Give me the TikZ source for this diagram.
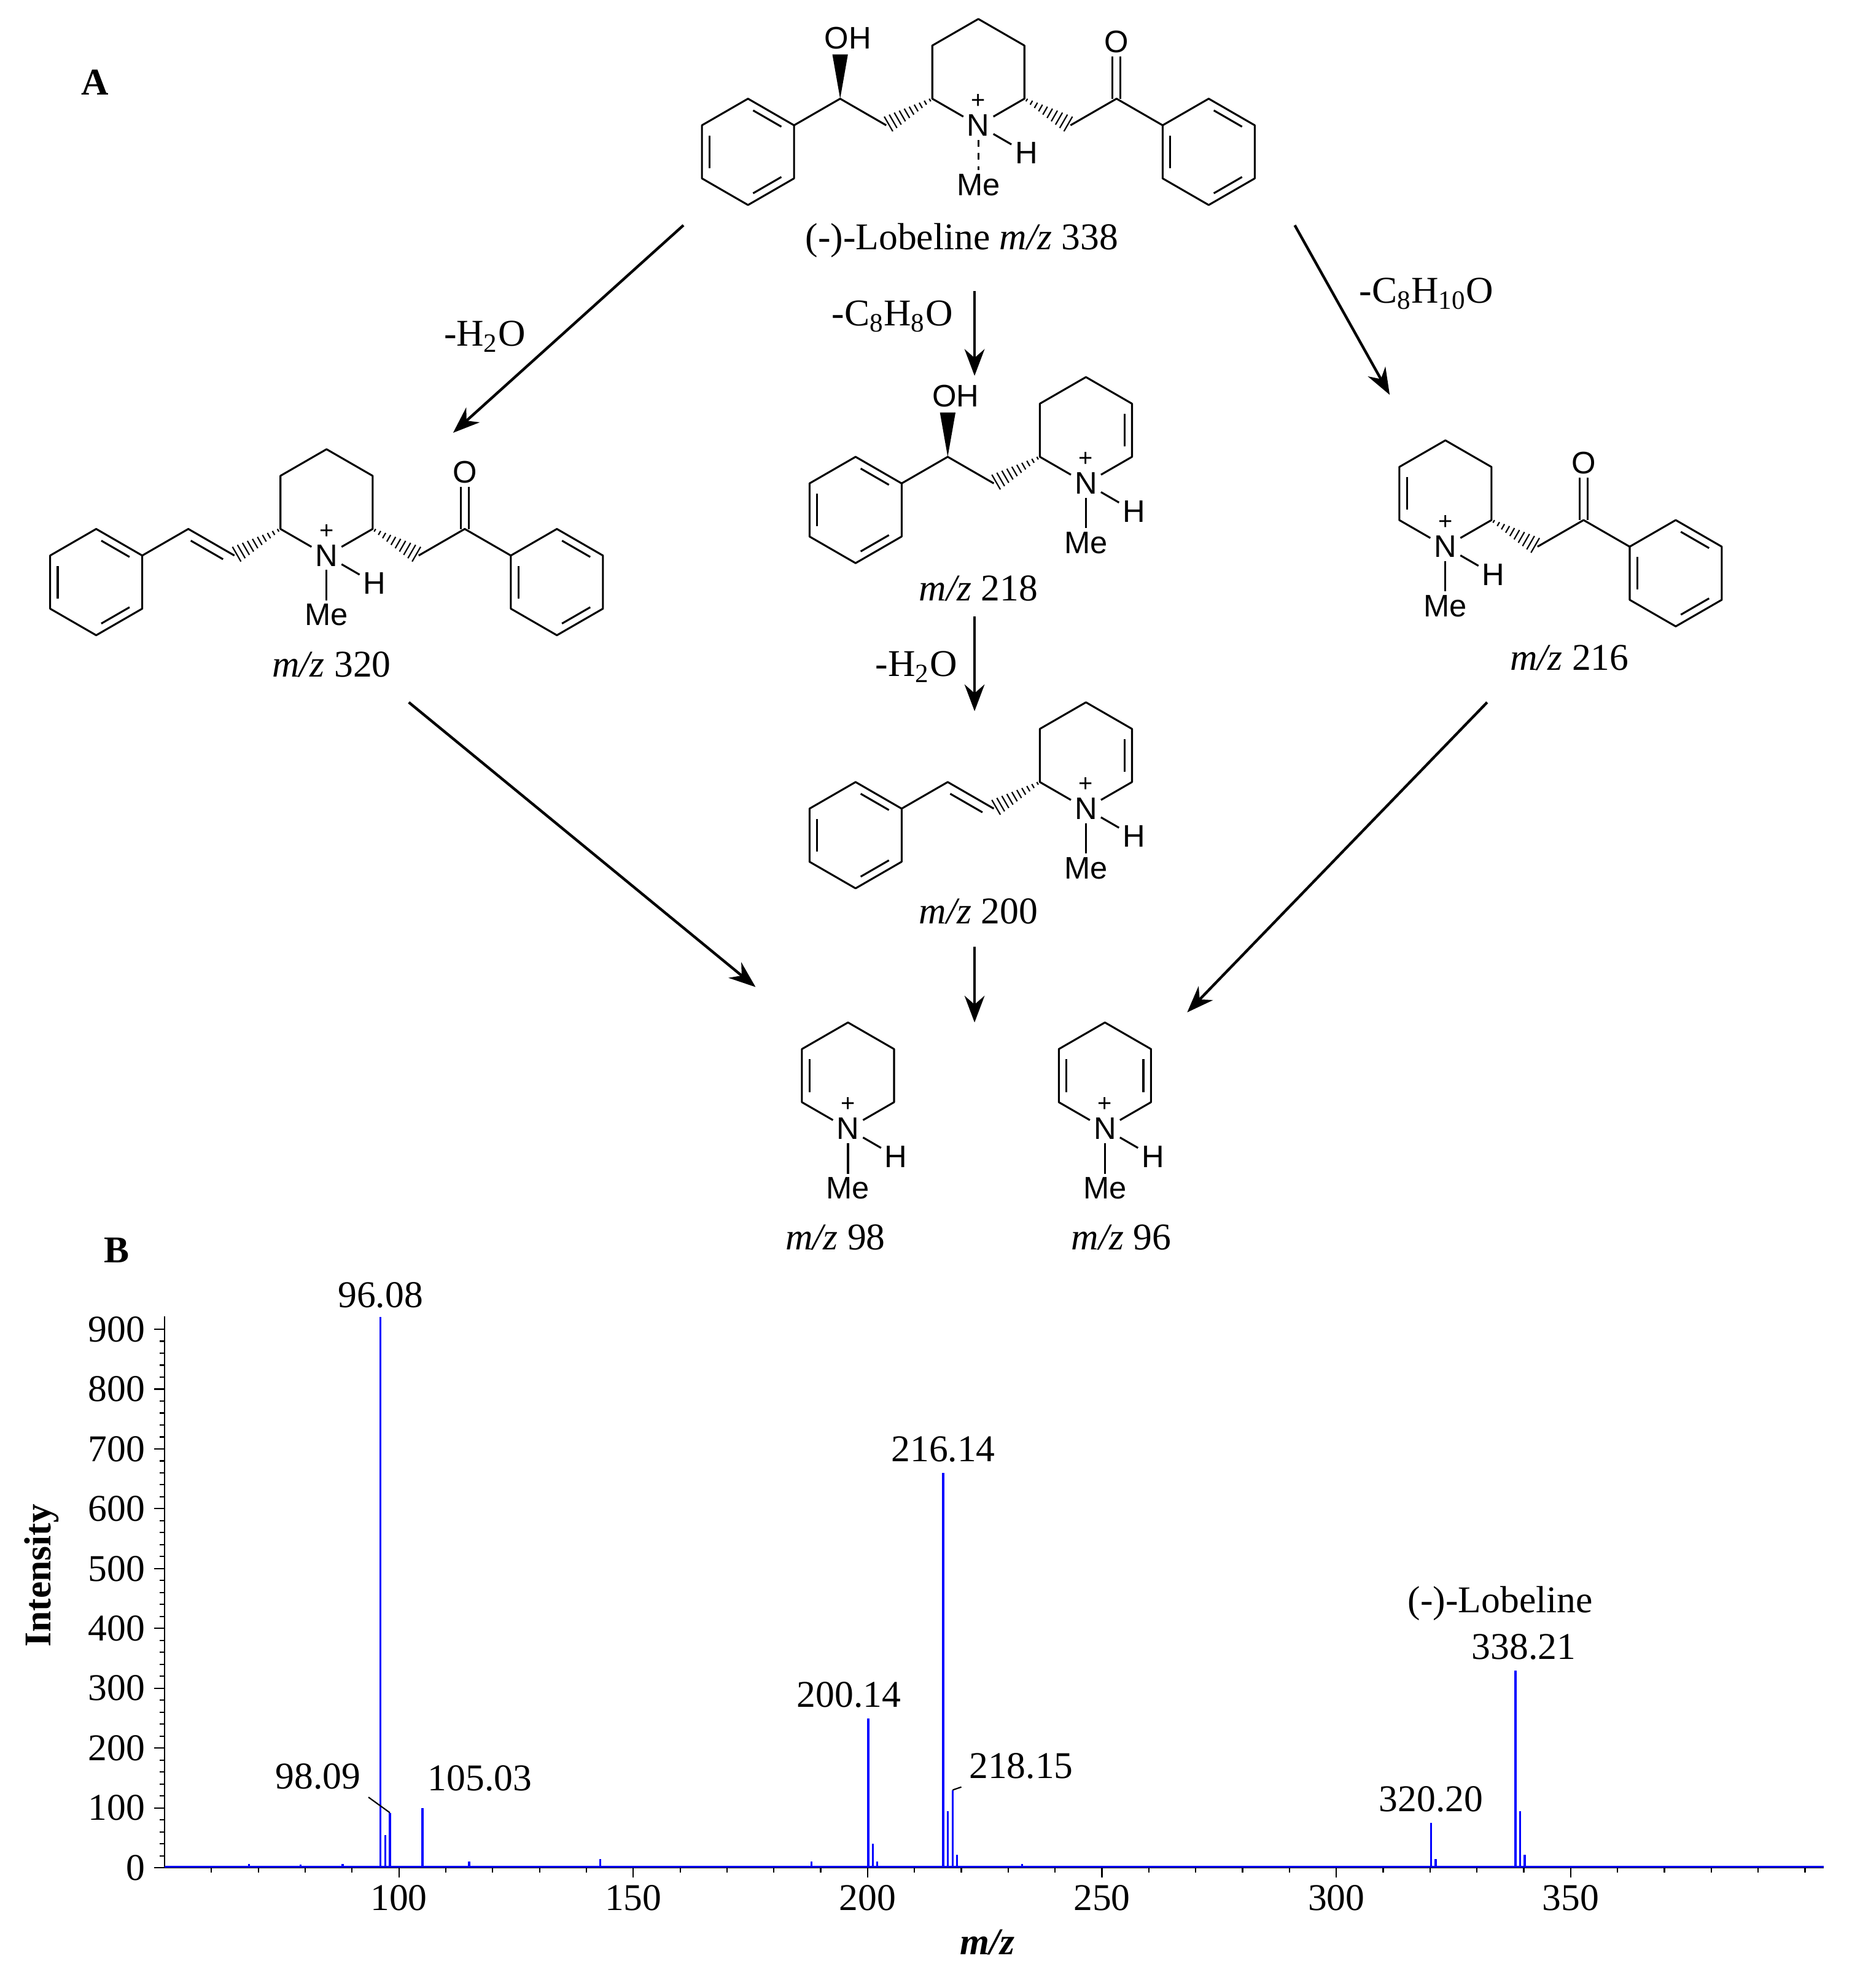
\documentclass[tikz,border=0pt]{standalone}
\usepackage{fontspec}
\setmainfont{Liberation Serif}
\newfontfamily\atomfont{Liberation Sans}
\usetikzlibrary{arrows.meta,calc,positioning}

\tikzset{
  bond/.style={line width=0.85pt, line join=round},
  atom/.style={font=\atomfont\fontsize{14}{14}\selectfont, inner sep=1.5pt},
  charge/.style={font=\atomfont\fontsize{11}{11}\selectfont, inner sep=0pt},
  lbl/.style={font=\fontsize{17}{20}\selectfont},
  rxn/.style={line width=1.2pt, -{Stealth[length=12pt,width=9pt]}},
  peak/.style={blue, line width=0.9pt},
  tick/.style={line width=0.6pt},
}

% phenyl ring around a coordinate
\newcommand{\phenyl}[1]{%
  \draw[bond] (#1) +(90:42) -- +(30:42) -- +(-30:42) -- +(-90:42) -- +(-150:42) -- +(150:42) -- cycle;
  \foreach \a/\b in {83/37,203/157,323/277} \draw[bond] (#1) +(\a:33) -- +(\b:33);
}
% hashed bond
\newcommand{\hashed}[2]{%
  \foreach \t in {0.05,0.15,...,0.95}{%
    \pgfmathsetmacro\w{0.5+3.5*\t}
    \draw[line width=0.6pt] ($(#1)!\t!(#2)!\w pt!90:(#2)$) -- ($(#1)!\t!(#2)!\w pt!-90:(#2)$);}
}
% wedge bond
\newcommand{\wedged}[2]{\fill ($(#1)$) -- ($(#2)!3.5pt!90:(#1)$) -- ($(#2)!3.5pt!-90:(#1)$) -- cycle;}
% N-methyl piperidinium ring around (#1c)
\newcommand{\pipring}[2]{%
  \coordinate (#1t) at ($(#1c)+(0,42)$);
  \coordinate (#1ur) at ($(#1c)+(36.4,21)$);
  \coordinate (#1lr) at ($(#1c)+(36.4,-21)$);
  \coordinate (#1ll) at ($(#1c)+(-36.4,-21)$);
  \coordinate (#1ul) at ($(#1c)+(-36.4,21)$);
  \node[atom] (#1n) at ($(#1c)+(0,-42)$) {N};
  \node[charge] (#1p) at ($(#1n)+(0,19)$) {+};
  \node[atom] (#1h) at ($(#1n)+(38,-22)$) {H};
  \node[atom] (#1me) at ($(#1n)+(0,-47)$) {Me};
  \draw[bond] (#1n) -- (#1ll) -- (#1ul) -- (#1t) -- (#1ur) -- (#1lr) -- (#1n);
  \draw[bond] (#1n) -- (#1h);
  \draw[bond,#2] (#1n) -- (#1me);
}

\begin{document}
\begin{tikzpicture}[x=0.02cm, y=0.02cm]
\useasboundingbox (0,0) rectangle (1463,-1571);

\node[font=\bfseries\fontsize{17}{20}\selectfont] (panelA) at (75,-65) {A};
\node[font=\bfseries\fontsize{17}{20}\selectfont] (panelB) at (92,-988) {B};

% (-)-lobeline
\begin{scope}[shift={(773,-57)}]
  \coordinate (lobc) at (0,0);
  \pipring{lob}{dashed}
  \coordinate (lob1) at (-72.8,-42);
  \coordinate (lob2) at (-109.2,-21);
  \coordinate (lob3) at (-145.6,-42);
  \coordinate (lobph) at (-182,-63);
  \node[atom] (loboh) at (-103,27) {OH};
  \hashed{lobll}{lob1}
  \draw[bond] (lob1) -- (lob2) -- (lob3);
  \wedged{lob2}{-109.2,14}
  \phenyl{lobph}
  \coordinate (lob4) at (72.8,-42);
  \coordinate (lob5) at (109.2,-21);
  \coordinate (lob6) at (145.6,-42);
  \coordinate (lobph2) at (182,-63);
  \node[atom] (lobo) at (109.2,24) {O};
  \hashed{loblr}{lob4}
  \draw[bond] (lob4) -- (lob5) -- (lob6);
  \draw[bond] ([xshift=-1.8pt]lob5) -- ([xshift=-1.8pt]lobo.south);
  \draw[bond] ([xshift=1.8pt]lob5) -- ([xshift=1.8pt]lobo.south);
  \phenyl{lobph2}
\end{scope}
\node[lbl] (loblbl) at (760,-190) {(-)-Lobeline \textit{m/z} 338};

% m/z 320
\begin{scope}[shift={(258,-397)}]
  \coordinate (ac) at (0,0);
  \pipring{a}{}
  \coordinate (a1) at (-72.8,-42);
  \coordinate (a2) at (-109.2,-21);
  \coordinate (a3) at (-145.6,-42);
  \coordinate (aph) at (-182,-63);
  \hashed{all}{a1}
  \draw[bond] (a1) -- (a2) -- (a3);
  \draw[bond] ($(a1)!0.15!(a2)!4pt!90:(a2)$) -- ($(a2)!0.15!(a1)!4pt!-90:(a1)$);
  \phenyl{aph}
  \coordinate (a4) at (72.8,-42);
  \coordinate (a5) at (109.2,-21);
  \coordinate (a6) at (145.6,-42);
  \coordinate (aph2) at (182,-63);
  \node[atom] (ao) at (109.2,24) {O};
  \hashed{alr}{a4}
  \draw[bond] (a4) -- (a5) -- (a6);
  \draw[bond] ([xshift=-1.8pt]a5) -- ([xshift=-1.8pt]ao.south);
  \draw[bond] ([xshift=1.8pt]a5) -- ([xshift=1.8pt]ao.south);
  \phenyl{aph2}
\end{scope}
\node[lbl] (albl) at (262,-525) {\textit{m/z} 320};

% m/z 218
\begin{scope}[shift={(858,-340)}]
  \coordinate (bc) at (0,0);
  \pipring{b}{}
  \draw[bond] (bc) +(23:33) -- +(-23:33);
  \coordinate (b1) at (-72.8,-42);
  \coordinate (b2) at (-109.2,-21);
  \coordinate (b3) at (-145.6,-42);
  \coordinate (bph) at (-182,-63);
  \node[atom] (boh) at (-103,27) {OH};
  \hashed{bll}{b1}
  \draw[bond] (b1) -- (b2) -- (b3);
  \wedged{b2}{-109.2,14}
  \phenyl{bph}
\end{scope}
\node[lbl] (blbl) at (773,-465) {\textit{m/z} 218};

% m/z 200
\begin{scope}[shift={(858,-597)}]
  \coordinate (cc) at (0,0);
  \pipring{c}{}
  \draw[bond] (cc) +(23:33) -- +(-23:33);
  \coordinate (c1) at (-72.8,-42);
  \coordinate (c2) at (-109.2,-21);
  \coordinate (c3) at (-145.6,-42);
  \coordinate (cph) at (-182,-63);
  \hashed{cll}{c1}
  \draw[bond] (c1) -- (c2) -- (c3);
  \draw[bond] ($(c1)!0.15!(c2)!4pt!90:(c2)$) -- ($(c2)!0.15!(c1)!4pt!-90:(c1)$);
  \phenyl{cph}
\end{scope}
\node[lbl] (clbl) at (773,-720) {\textit{m/z} 200};

% m/z 216
\begin{scope}[shift={(1142,-390)}]
  \coordinate (dc) at (0,0);
  \pipring{d}{}
  \draw[bond] (dc) +(157:33) -- +(203:33);
  \coordinate (d4) at (72.8,-42);
  \coordinate (d5) at (109.2,-21);
  \coordinate (d6) at (145.6,-42);
  \coordinate (dph) at (182,-63);
  \node[atom] (do) at (109.2,24) {O};
  \hashed{dlr}{d4}
  \draw[bond] (d4) -- (d5) -- (d6);
  \draw[bond] ([xshift=-1.8pt]d5) -- ([xshift=-1.8pt]do.south);
  \draw[bond] ([xshift=1.8pt]d5) -- ([xshift=1.8pt]do.south);
  \phenyl{dph}
\end{scope}
\node[lbl] (dlbl) at (1240,-520) {\textit{m/z} 216};

% m/z 98 and m/z 96
\coordinate (ec) at (670,-850);
\pipring{e}{}
\draw[bond] (ec) +(157:33) -- +(203:33);
\node[lbl] (elbl) at (660,-978) {\textit{m/z} 98};
\coordinate (fc) at (873,-850);
\pipring{f}{}
\draw[bond] (fc) +(157:33) -- +(203:33);
\draw[bond] (fc) +(23:33) -- +(-23:33);
\node[lbl] (flbl) at (886,-978) {\textit{m/z} 96};

% fragmentation arrows
\coordinate (r1s) at (540,-178);  \coordinate (r1e) at (358,-342);
\coordinate (r2s) at (770,-230);  \coordinate (r2e) at (770,-297);
\coordinate (r3s) at (1023,-178); \coordinate (r3e) at (1098,-312);
\coordinate (r4s) at (770,-487);  \coordinate (r4e) at (770,-562);
\coordinate (r5s) at (323,-555);  \coordinate (r5e) at (597,-780);
\coordinate (r6s) at (770,-748);  \coordinate (r6e) at (770,-808);
\coordinate (r7s) at (1175,-555); \coordinate (r7e) at (938,-800);
\foreach \r in {1,...,7} \draw[rxn] (r\r s) -- (r\r e);
\node[lbl] (l1) at (383,-266) {-H\textsubscript{2}O};
\node[lbl] (l2) at (705,-250) {-C\textsubscript{8}H\textsubscript{8}O};
\node[lbl] (l3) at (1127,-232) {-C\textsubscript{8}H\textsubscript{10}O};
\node[lbl] (l4) at (724,-527) {-H\textsubscript{2}O};

% spectrum
\begin{scope}[shift={(130,-1476)}, x=0.07408cm, y=0.009466cm]
  \draw[tick] (0,0) -- (354,0);
  \draw[tick] (0,0) -- (0,922);
  \foreach \v in {0,100,...,900}{
    \draw[tick] (0,\v) -- (-2.2,\v);
    \node[lbl, anchor=east] (yl\v) at (-2.5,\v) {\v};}
  \foreach \v in {20,40,...,900} \draw[tick] (0,\v) -- (-1.1,\v);
  \foreach \v in {100,150,...,350}{
    \draw[tick] (\v-50,0) -- (\v-50,-16);
    \node[lbl, anchor=north] (xl\v) at (\v-50,-16) {\v};}
  \foreach \v in {60,70,...,400} \draw[tick] (\v-50,0) -- (\v-50,-8);
  \draw[peak] (0,2) -- (354,2);
  \foreach \m/\h in {68/6,79/5,88/6,96.08/920,97.1/55,98.09/92,105.03/100,115/10,143/15,
                     188/10,200.14/250,201.1/40,202/10,216.14/660,217.1/95,218.15/130,219.1/22,
                     233/6,320.20/75,321.2/15,338.21/330,339.2/95,340.2/22}
    \draw[peak] (\m-50,0) -- (\m-50,\h);
  \node[lbl, anchor=south] (p96) at (96.08-50,922) {96.08};
  \node[lbl, anchor=south east] (p98) at (93.5-50,118) {98.09};
  \draw[line width=0.6pt] (p98.south east) -- (98.09-50,92);
  \node[lbl, anchor=south west] (p105) at (104.5-50,115) {105.03};
  \node[lbl, anchor=south] (p200) at (196-50,255) {200.14};
  \node[lbl, anchor=south] (p216) at (216.14-50,665) {216.14};
  \node[lbl, anchor=south west] (p218) at (220-50,135) {218.15};
  \draw[line width=0.6pt] (218.15-50,130) -- (p218.south west);
  \node[lbl, anchor=south] (p320) at (320.2-50,80) {320.20};
  \node[lbl, anchor=south] (p338) at (340-50,335) {338.21};
  \node[lbl, anchor=south] (plob) at (335-50,400) {(-)-Lobeline};
\end{scope}
\node[lbl, font=\bfseries\fontsize{17}{20}\selectfont, rotate=90] (ylab) at (33,-1245) {Intensity};
\node[lbl, font=\bfseries\itshape\fontsize{17}{20}\selectfont] (xlab) at (780,-1535) {m/z};
\end{tikzpicture}
\end{document}
